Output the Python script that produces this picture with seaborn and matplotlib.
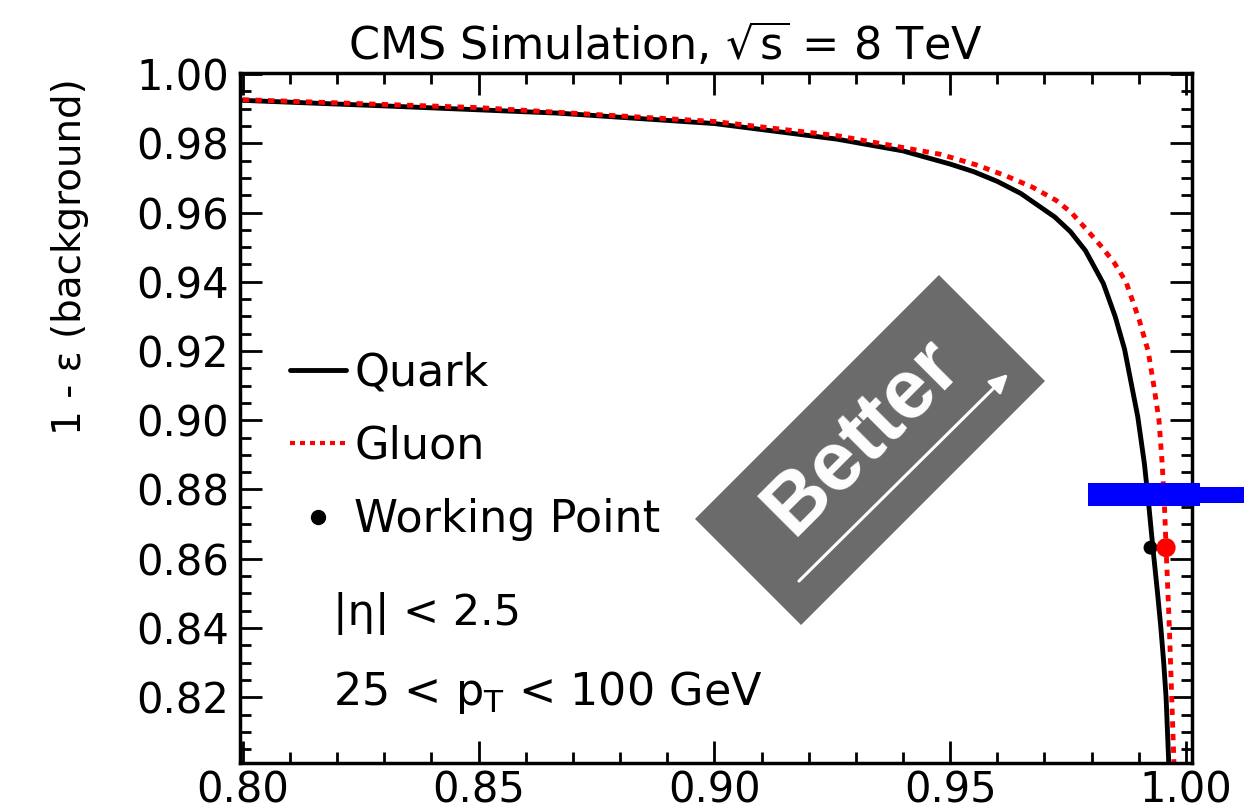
import matplotlib
matplotlib.use("Agg")
import numpy as np
import pandas as pd
import seaborn as sns
import matplotlib.pyplot as plt
from matplotlib.lines import Line2D
from matplotlib.patches import Rectangle, FancyArrowPatch
from matplotlib.transforms import IdentityTransform
from matplotlib.ticker import FixedLocator, MultipleLocator, FormatStrFormatter

# ---------------- data ----------------
quark_sig = [0.800, 0.830, 0.867, 0.900, 0.926, 0.940, 0.950, 0.955, 0.960, 0.965,
             0.9722, 0.9755, 0.9787, 0.9825, 0.9850, 0.9870, 0.9898, 0.9912, 0.9921,
             0.9930, 0.9940, 0.9947, 0.9953, 0.9958, 0.9964]
quark_bkg = [0.9924, 0.9908, 0.9887, 0.9857, 0.9812, 0.9778, 0.9740, 0.9718, 0.9690, 0.9655,
             0.9587, 0.9545, 0.9490, 0.9395, 0.9300, 0.9205, 0.9010, 0.8875, 0.8760,
             0.8632, 0.8500, 0.8400, 0.8300, 0.8200, 0.8000]

gluon_sig = [0.800, 0.850, 0.900, 0.926, 0.948, 0.9557, 0.962, 0.9675, 0.9725, 0.9757,
             0.9790, 0.9822, 0.9848, 0.9873, 0.9901, 0.9920, 0.9932, 0.9943, 0.9950,
             0.9955, 0.9958, 0.9962, 0.9965, 0.9970, 0.9975]
gluon_bkg = [0.9926, 0.9903, 0.9863, 0.9822, 0.9768, 0.9737, 0.9705, 0.9673, 0.9635, 0.9600,
             0.9550, 0.9500, 0.9455, 0.9400, 0.9290, 0.9200, 0.9100, 0.9000, 0.8870,
             0.8740, 0.8632, 0.8500, 0.8400, 0.8200, 0.8000]

wp_names = ["Quark", "Gluon"]
wp_sig = [0.9925, 0.9958]
wp_bkg = [0.8632, 0.8632]

x_ticks = [0.80, 0.85, 0.90, 0.95, 1.00]
y_ticks = [0.82, 0.84, 0.86, 0.88, 0.90, 0.92, 0.94, 0.96, 0.98, 1.00]

legend_labels = ["Quark", "Gluon", "Working Point"]
title_text = r"CMS Simulation, $\sqrt{s}$ = 8 TeV"
ylabel_text = "1 - ε (background)"
eta_text = "|η| < 2.5"
pt_text = r"25 < p$_{\mathregular{T}}$ < 100 GeV"
better_text = "Better"

# ---------------- style ----------------
sns.set_theme(style="ticks")
plt.rcParams["font.family"] = ["DejaVu Sans"]
plt.rcParams["mathtext.default"] = "regular"
plt.rcParams["text.color"] = "black"

W, H = 1244, 810
fig = plt.figure(figsize=(W / 100, H / 100), dpi=100)
fig.patch.set_facecolor("white")
ax = fig.add_axes([240 / W, 47 / H, 952 / W, 690 / H])
ax.set_facecolor("white")

df = pd.concat([
    pd.DataFrame({"sig": quark_sig, "bkg": quark_bkg, "jet": "Quark"}),
    pd.DataFrame({"sig": gluon_sig, "bkg": gluon_bkg, "jet": "Gluon"}),
])
palette = {"Quark": "black", "Gluon": "#ff0000"}
sns.lineplot(data=df, x="sig", y="bkg", hue="jet", style="jet",
             hue_order=["Quark", "Gluon"], palette=palette,
             dashes={"Quark": "", "Gluon": (1.3, 1.3)},
             linewidth=3.5, estimator=None, sort=False, legend=False, ax=ax)

wp = pd.DataFrame({"sig": wp_sig, "bkg": wp_bkg, "jet": wp_names})
sns.scatterplot(data=wp[wp.jet == "Quark"], x="sig", y="bkg", color="black",
                s=100, edgecolor="none", ax=ax, zorder=5, legend=False)
sns.scatterplot(data=wp[wp.jet == "Gluon"], x="sig", y="bkg", color="#ff0000",
                s=190, edgecolor="none", ax=ax, zorder=5, legend=False)

ax.set_xlim(0.7994, 1.0013)
ax.set_ylim(0.801, 1.0003)
ax.set_xlabel("")
ax.set_ylabel("")

ax.xaxis.set_major_locator(FixedLocator(x_ticks))
ax.yaxis.set_major_locator(FixedLocator(y_ticks))
ax.xaxis.set_minor_locator(MultipleLocator(0.01))
ax.yaxis.set_minor_locator(MultipleLocator(0.005))
ax.xaxis.set_major_formatter(FormatStrFormatter("%.2f"))
ax.yaxis.set_major_formatter(FormatStrFormatter("%.2f"))

for s in ax.spines.values():
    s.set_visible(True)
    s.set_color("black")
    s.set_linewidth(2.5)
ax.tick_params(which="both", direction="in", top=True, right=True,
               colors="black", width=2.0)
ax.tick_params(which="major", length=16, labelsize=30)
ax.tick_params(which="minor", length=8)
ax.tick_params(axis="y", which="major", pad=8)
ax.tick_params(axis="x", which="major", pad=5)

# legend
handles = [
    Line2D([], [], color="black", lw=3.5),
    Line2D([], [], color="#ff0000", lw=3.0, linestyle=(0, (1.2, 1.2))),
    Line2D([], [], color="black", marker="o", markersize=10, linestyle="none"),
]
leg = ax.legend(handles, legend_labels, loc="upper left", bbox_to_anchor=(0.0525, 0.596),
                frameon=False, fontsize=32, handlelength=1.25, handletextpad=0.2,
                labelspacing=0.68, borderaxespad=0, borderpad=0)
for t in leg.get_texts():
    t.set_color("black")

# annotations
ax.text((333 - 240) / 952, (763 - 625) / 690, eta_text, transform=ax.transAxes,
        fontsize=31, ha="left", va="baseline", color="black")
ax.text((333 - 240) / 952, (763 - 705) / 690, pt_text, transform=ax.transAxes,
        fontsize=32, ha="left", va="baseline", color="black")

fig.text(665 / W, 1 - 45 / H, title_text, ha="center", va="center",
         fontsize=32, color="black")
fig.text(70 / W, 1 - 257 / H, ylabel_text, rotation=90, ha="center",
         va="center", fontsize=28, color="black")

# "Better" badge (display pixel coordinates, origin bottom-left)
ident = IdentityTransform()
cx, cy = 870, H - 450
bw, bh = 345, 150
box = Rectangle((cx - bw / 2, cy - bh / 2), bw, bh, angle=45,
                rotation_point="center", facecolor="#6b6b6b",
                edgecolor="none", transform=ident, zorder=6)
fig.add_artist(box)
fig.text(862, H - 437, better_text, transform=ident, rotation=45,
         rotation_mode="anchor", ha="center", va="center",
         fontsize=60, fontweight="bold", color="white",
         family=["Liberation Sans", "DejaVu Sans"], zorder=7)
arrow = FancyArrowPatch((797, H - 583), (1010, H - 372), arrowstyle="-|>",
                        mutation_scale=28, color="white", lw=2.2,
                        transform=ident, zorder=7)
fig.add_artist(arrow)

# blue marker bar
fig.add_artist(Rectangle((1088, H - 506), 112, 23, facecolor="#0000ff",
                         edgecolor="none", transform=ident, zorder=8))
fig.add_artist(Rectangle((1200, H - 503), 44, 16, facecolor="#0000ff",
                         edgecolor="none", transform=ident, zorder=8))

fig.savefig("out.png", dpi=100, facecolor="white")
